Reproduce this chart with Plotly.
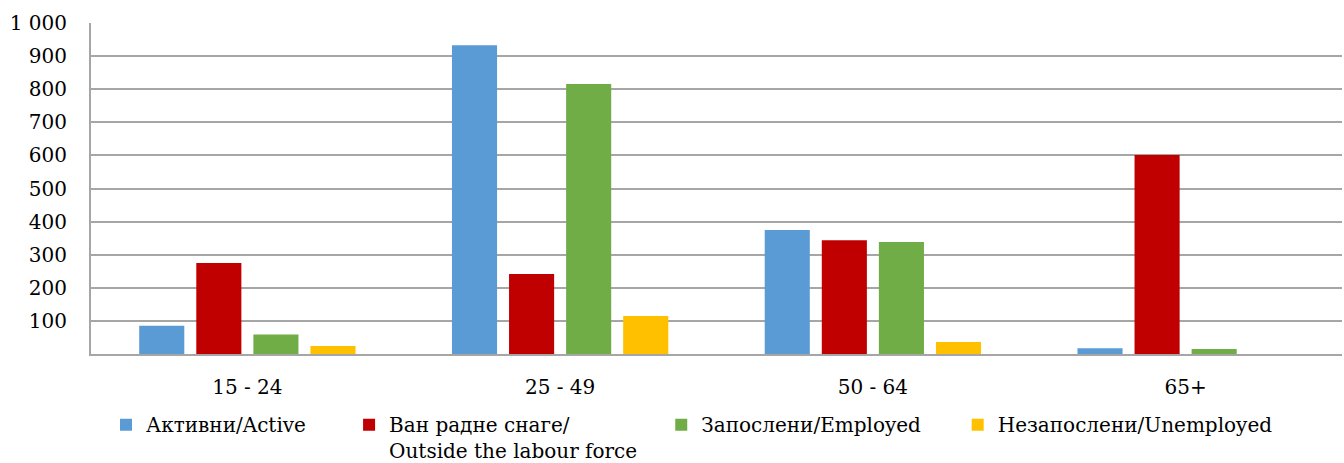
import plotly.graph_objects as go

categories = ["15 - 24", "25 - 49", "50 - 64", "65+"]
active = [85, 933, 375, 17]
outside = [275, 242, 344, 601]
employed = [59, 816, 338, 15]
unemployed = [24, 115, 36, 0]

NB = "\u00a0"
names = ["Активни/Active" + NB * 6,
         "Ван радне снаге/<br>Outside the labour force" + NB * 3,
         "Запослени/Employed" + NB * 5,
         "Незапослени/Unemployed"]
colors = ["#5b9bd5", "#c00000", "#70ad47", "#ffc000"]
series = [active, outside, employed, unemployed]

tickvals = [100, 200, 300, 400, 500, 600, 700, 800, 900, 1000]
ticktext = ["100", "200", "300", "400", "500", "600", "700", "800", "900", "1 000"]

fig = go.Figure()
for n, c, s in zip(names, colors, series):
    fig.add_trace(go.Bar(x=categories, y=s, name=n, marker=dict(color=c, line=dict(width=0))))

font = dict(family="DejaVu Serif", size=20, color="black")
fig.update_layout(
    width=1344, height=463,
    margin=dict(l=91, r=2, t=23, b=109),
    plot_bgcolor="white", paper_bgcolor="white",
    font=font,
    barmode="group", bargap=0.27, bargroupgap=0.21,
    showlegend=True,
    legend=dict(orientation="h", x=0.012, xanchor="left",
                yref="container", y=0.125, yanchor="top",
                font=font, valign="top", itemwidth=30, tracegroupgap=0),
    xaxis=dict(showline=True, linecolor="#a6a6a6", linewidth=2, ticks="",
               tickfont=font, automargin=False, ticklabelstandoff=14),
    yaxis=dict(range=[0, 1000], tickvals=tickvals, ticktext=ticktext,
               showgrid=True, gridcolor="#a6a6a6", gridwidth=2,
               showline=True, linecolor="#a6a6a6", linewidth=2,
               ticks="", tickfont=font, zeroline=False, automargin=False,
               ticklabelstandoff=18),
)
fig.write_html("out.html", config={"displayModeBar": False},
               post_script="document.body.style.margin='0px';")
